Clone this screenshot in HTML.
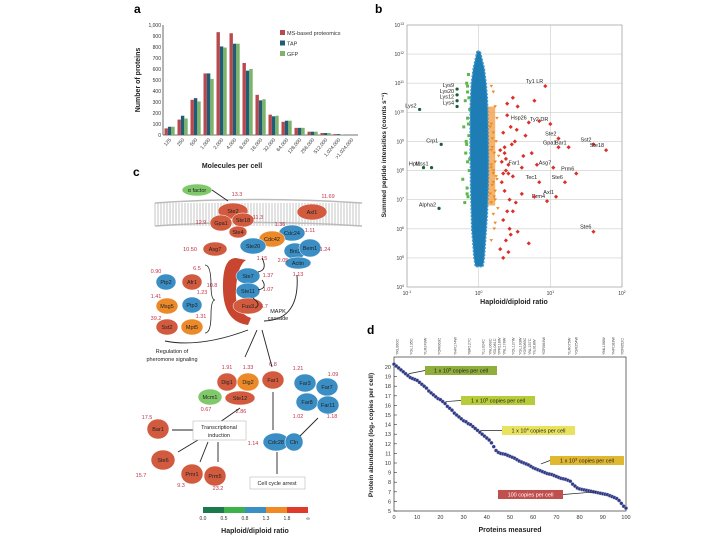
<!DOCTYPE html>
<html><head><meta charset="utf-8"><style>
html,body{margin:0;padding:0;background:#fff;}
svg{display:block;font-family:"Liberation Sans",sans-serif;}
</style></head><body>
<svg id="fig" width="720" height="540" viewBox="0 0 720 540">
<text x="134" y="13" font-size="12" font-weight="bold">a</text>
<text x="375" y="13" font-size="12" font-weight="bold">b</text>
<text x="133" y="176" font-size="12" font-weight="bold">c</text>
<text x="367" y="334" font-size="12" font-weight="bold">d</text>
<g id="pa"></g>
<g id="pb"></g>
<g id="pc"></g>
<g id="pd"></g>
</svg>
<script>
// ---- Panel a data ----
const aCategories=["125","250","500","1,000","2,000","4,000","8,000","16,000","32,000","64,000","128,000","256,000","512,000","1,024,000",">1,024,000"];
const aMS=[60,140,320,560,935,925,655,365,185,120,65,30,18,8,0];
const aTAP=[75,175,335,560,805,830,585,315,170,130,65,30,18,8,0];
const aGFP=[75,150,305,510,795,830,600,325,175,130,65,30,18,5,0];
const aTicks=[0,100,200,300,400,500,600,700,800,900,1000];
// ---- Panel b data (ratio, log10 intensity) ----
const bRedRatio=[8.5,5,10,13,40,60,18,13,11,23,4,16,7,12,9,40,3,3.5,2.5,6,7,2.2,2.8,4.5,5.5,3.2,2.4,2.6,6.5,3,2.1,2.3,4,2.7,3.3,2.5,2.2,5,3.5,2.8,2.4,2,2.6,3,2.3,6,4.2,2.9,2.2,2.4,2.1,2.6,2.3,2.5,3.4,2.0,2.7,2.2];
const bRedLog=[10.9,9.65,9.6,9.1,8.9,8.7,8.8,8.8,8.1,7.9,8.1,7.6,7.6,7.1,6.95,5.9,10.5,10.2,10.3,10.4,9.7,9.3,9.5,9.2,8.6,9,8.4,8.2,8.2,7.8,7.6,7.3,7.2,7,6.9,6.6,6.3,5.5,5.9,5.8,5.6,5.3,5.2,6.6,8.8,7.1,8.5,8.9,7.9,8.0,8.3,7.9,8.6,9.9,9.4,8.7,6.0,5.0];
const bOrangeRatio=[1.5,1.6,1.7,1.8,1.5,1.6,1.75,1.55,1.65,1.9,1.7,1.5,1.6,1.8,1.55,1.7,1.65,1.5,1.85,1.6,1.7,1.5,1.6,1.75,1.55,1.65,1.45,1.5,1.6,1.45,1.7,1.5];
const bOrangeLog=[10.9,10.7,10.2,9.8,9.6,9.3,9,8.8,8.6,8.5,8.3,8.1,7.9,7.7,7.5,7.3,7.1,6.9,6.7,6.5,6.2,8.2,7.6,7.8,9.1,6.0,9.5,8.7,8.0,7.2,7.0,5.6];
const bGreenRatio=[0.72,0.68,0.7,0.65,0.75,0.7,0.62,0.73,0.68,0.66,0.7,0.74,0.6,0.69,0.71,0.64,0.7,0.67,0.72,0.75,0.69,0.73];
const bGreenLog=[11.3,11,10.7,10.4,10.1,9.8,9.5,9.2,8.9,8.6,8.3,8,7.7,7.4,7.1,6.9,10.9,9,9.6,8.4,7.2,10.5];
const bLabels=["Ty1 LR","Hsp26","Ty2 DR","Ste2","Sst2","Ste18","Bar1","Gpa1","Asg7","Prm6","Far1","Ste6","Tec1","Axl1","Prm4","Ste6"];
const bDarkRatio=[0.5,0.5,0.5,0.5,0.15,0.3,0.17,0.22,0.28];
const bDarkLog=[10.8,10.6,10.4,10.2,10.1,8.9,8.1,8.1,6.7];
const bDarkLabels=["Lys9","Lys20","Lys12","Lys4","Lys2","Crp1","Hpt1","Mss1","Alpha2"];
const bCloudLog=[12.1,11.5,11,10.5,10,9.5,9,8.5,8,7.5,7,6.5,6,5.5,5,4.7];
const bCloudLo=[0.95,0.84,0.79,0.77,0.76,0.76,0.76,0.76,0.77,0.77,0.78,0.79,0.8,0.83,0.86,0.9];
const bCloudHi=[1.05,1.2,1.27,1.32,1.34,1.35,1.36,1.37,1.37,1.36,1.34,1.32,1.28,1.24,1.2,1.15];
// ---- Panel d data ----
const dX=[0,1,2,3,4,5,6,7,8,9,10,11,12,13,14,15,16,17,18,19,20,21,22,23,24,25,26,27,28,29,30,31,32,33,34,35,36,37,38,39,40,41,42,43,44,45,46,47,48,49,50,51,52,53,54,55,56,57,58,59,60,61,62,63,64,65,66,67,68,69,70,71,72,73,74,75,76,77,78,79,80,81,82,83,84,85,86,87,88,89,90,91,92,93,94,95,96,97,98,99,100];
const dY=[20.3,20.1,19.9,19.7,19.5,19.3,19.1,18.9,18.8,18.7,18.6,18.4,18.2,18.0,17.8,17.5,17.3,17.1,16.9,16.7,16.6,16.4,16.2,15.9,15.7,15.5,15.2,15.0,14.8,14.6,14.4,14.3,14.1,14.0,13.8,13.6,13.4,13.2,13.0,12.8,12.6,12.4,12.1,11.7,11.3,11.1,11.0,10.95,10.9,10.8,10.7,10.6,10.5,10.35,10.2,10.1,10.0,9.9,9.8,9.65,9.5,9.4,9.3,9.2,9.1,9.0,8.9,8.85,8.8,8.7,8.6,8.5,8.4,8.35,8.3,8.2,8.1,7.8,7.6,7.4,7.3,7.25,7.2,7.15,7.1,7.05,7.0,6.95,6.9,6.85,6.8,6.75,6.7,6.6,6.5,6.4,6.3,6.1,5.8,5.5,5.3];
const dTicksY=[5,6,7,8,9,10,11,12,13,14,15,16,17,18,19,20];
const dTicksX=[0,10,20,30,40,50,60,70,80,90,100];
const dGenes=["YKL060C","YGL135C","YLR249W","YOR063C","YHR174W","YBR127C","YLL024C","YNL069C","YDL081C","YPR118W","YNL178W","YOL127W","YGL103W","YIL018W","YDR064W","YLR075W","YGR254W","YML106W","YHR183W","YDR052C","YGR085C","YNL157C"];
const dGeneX=[2,8,14,20,27,33,39,42,44,46,48,52,55,61,65,76,79,91,95,99,57,59];
const dBoxText=["1 x 10","1 x 10","1 x 10","1 x 10","100 copies per cell"];
const dBoxExp=["5","5","4","3",""];

const NS="http://www.w3.org/2000/svg";
function el(parent,tag,attrs,txt){const e=document.createElementNS(NS,tag);for(const k in attrs)e.setAttribute(k,attrs[k]);if(txt!==undefined)e.textContent=txt;parent.appendChild(e);return e;}
function powLabel(g,x,y,e,anchor){const t=el(g,'text',{x:x,y:y,'font-size':5,'text-anchor':anchor,fill:'#333'},'10');el(t,'tspan',{'font-size':3.5,dy:-2},String(e));return t;}

// ===== Panel a =====
(function(){
const g=document.getElementById('pa');
const x0=163,x1=358,yB=135,yT=25;
const ay=v=>yB-(v/1000)*(yB-yT);
const bw=(x1-x0)/aCategories.length;
el(g,'line',{x1:x0,y1:yT,x2:x0,y2:yB,stroke:'#444','stroke-width':0.8});
el(g,'line',{x1:x0,y1:yB,x2:x1,y2:yB,stroke:'#444','stroke-width':0.8});
aTicks.forEach(t=>{
 const tl=el(g,'text',{x:x0-2,y:ay(t)+2,'font-size':5,'text-anchor':'end',fill:'#333'},t===1000?'1,000':t);
 
 
});
const series=[[aMS,'#b84a4f'],[aTAP,'#1d5d78'],[aGFP,'#7db46a']];
aCategories.forEach((c,i)=>{
 const gx=x0+i*bw+1.5;
 series.forEach(([arr,col],j)=>{
  const r=el(g,'rect',{x:gx+j*3.4,y:ay(arr[i]),width:3.4,height:yB-ay(arr[i]),fill:col});
  
  
 });
 const cx=x0+i*bw+bw/2+2;
 const t=el(g,'text',{x:cx,y:yB+5,'font-size':5,'text-anchor':'end',fill:'#333',transform:`rotate(-50 ${cx} ${yB+5})`},c);
 
 
});
const yl=el(g,'text',{x:140,y:80,'font-size':7,'font-weight':'bold','text-anchor':'middle',transform:'rotate(-90 140 80)',fill:'#222'},'Number of proteins');


const xl=el(g,'text',{x:232,y:168,'font-size':7,'font-weight':'bold','text-anchor':'middle',fill:'#222'},'Molecules per cell');


["MS-based proteomics","TAP","GFP"].forEach((n,i)=>{
 const r=el(g,'rect',{x:280,y:30+i*10.5,width:5,height:5,fill:series[i][1]});
 
 
 const t=el(g,'text',{x:287,y:35+i*10.5,'font-size':5.5,fill:'#333'},n);
 
 
});
})();

// ===== Panel b =====
(function(){
const g=document.getElementById('pb');
const X0=407,X1=622,Y13=25,Y4=287;
const bx=r=>X0+(Math.log10(r)+1)/3*(X1-X0);
const by=l=>Y4-(l-4)/9*(Y4-Y13);
for(let e=4;e<=13;e++){el(g,'line',{x1:X0,y1:by(e),x2:X1,y2:by(e),stroke:'#ccc','stroke-width':0.6});
 const t=powLabel(g,X0-3,by(e)+2,e,'end');
 
 }
[-1,0,1,2].forEach(e=>{el(g,'line',{x1:bx(Math.pow(10,e)),y1:Y13,x2:bx(Math.pow(10,e)),y2:Y4,stroke:'#ccc','stroke-width':0.6});
 const t=powLabel(g,bx(Math.pow(10,e)),Y4+8,e,'middle');
 
 });
el(g,'rect',{x:X0,y:Y13,width:X1-X0,height:Y4-Y13,fill:'none',stroke:'#999','stroke-width':0.6});
const ob=el(g,'rect',{x:bx(1.33),y:by(10.2),width:bx(1.7)-bx(1.33),height:by(6.8)-by(10.2),fill:'#f3a048',opacity:0.8});


bOrangeRatio.forEach((r,i)=>{const p=el(g,'path',{d:`M${bx(r)-1.8},${by(bOrangeLog[i])-1.3}h3.6l-1.8,2.8z`,fill:'#ef8a22'});
 
 });
bGreenRatio.forEach((r,i)=>{const p=el(g,'rect',{x:bx(r)-1.5,y:by(bGreenLog[i])-1.5,width:3,height:3,fill:'#5db84a'});
 
 });
let d='M'+bCloudLog.map((l,i)=>bx(bCloudLo[i])+','+by(l)).join('L');
d+='L'+bCloudHi.map((h,i)=>bx(h)+','+by(bCloudLog[i])).reverse().join('L')+'Z';
const cl=el(g,'path',{d:d,fill:'#1f7db5',stroke:'#3a95c8','stroke-width':1.5,'stroke-dasharray':'2 1.5'});


bRedRatio.forEach((r,i)=>{const x=bx(r),y=by(bRedLog[i]);const p=el(g,'path',{d:`M${x},${y-2.1}l2.1,2.1l-2.1,2.1l-2.1,-2.1z`,fill:'#d9312a'});
 
 
 if(i<bLabels.length){const t=el(g,'text',{x:x-2,y:y-3,'font-size':5.5,'text-anchor':'end',fill:'#222'},bLabels[i]);
 
 }});
bDarkRatio.forEach((r,i)=>{const x=bx(r),y=by(bDarkLog[i]);const p=el(g,'circle',{cx:x,cy:y,r:1.6,fill:'#1a5e3a'});
 
 
 const t=el(g,'text',{x:x-3,y:y-2,'font-size':5.5,'text-anchor':'end',fill:'#222'},bDarkLabels[i]);
 
 });
const yl=el(g,'text',{x:386,y:155,'font-size':6.5,'font-weight':'bold','text-anchor':'middle',transform:'rotate(-90 386 155)',fill:'#222'},'Summed peptide intensities (counts s⁻¹)');


const xl=el(g,'text',{x:514,y:304,'font-size':7,'font-weight':'bold','text-anchor':'middle',fill:'#222'},'Haploid/diploid ratio');


})();

// ===== Panel c =====
(function(){
const g=document.getElementById('pc');
for(let x=155;x<362;x+=3){el(g,'line',{x1:x,y1:203,x2:x,y2:226,stroke:'#d6d6d6','stroke-width':1.4});}
el(g,'path',{d:'M155,203 Q258,196 362,203 M155,226 Q258,219 362,226',stroke:'#bbb',fill:'none','stroke-width':1.5});
const sc=el(g,'path',{d:'M236,258 Q222,258 223,290 Q224,322 248,325 L251,318 Q234,312 236,290 Q237,266 246,260 Z',fill:'#c8452f'});


const R='#d25a3e',B='#3a8ec4',O='#ec8a2a',G='#7fc96a';
const nodes=[["α factor",197,190,15,6,G],["Ste2",233,211,15,8,R],["Axl1",312,212,15,8,R],["Gpa1",221,223,11,8,R],["Ste18",243,220,11,7,R],["Ste4",238,232,9,6,R],["Cdc24",292,233,13,8,B],["Cdc42",272,239,13,8,O],["Ste20",253,246,13,8,B],["Bni1",295,251,11,8,B],["Bem1",310,248,11,9,B],["Actin",298,263,13,6,B],["Asg7",215,249,12,7,R],["Ste7",248,276,12,8,B],["Ste11",248,291,12,8,B],["Fus3",248,306,15,8,R],["Ptp2",166,282,10,8,B],["Afr1",192,282,10,8,R],["Msg5",167,306,11,8,O],["Ptp3",192,305,10,8,B],["Sst2",167,327,11,8,R],["Mpt5",192,327,11,8,O],["Dig1",227,382,10,9,R],["Dig2",248,382,11,9,O],["Far1",273,380,11,9,R],["Mcm1",210,397,12,8,G],["Ste12",240,398,15,7,R],["Far3",305,383,11,9,B],["Far7",327,387,11,9,B],["Far8",307,402,11,9,B],["Far11",328,405,11,9,B],["Bar1",158,429,11,10,R],["Ste6",163,460,12,10,R],["Pmr1",192,474,11,10,R],["Prm5",215,476,11,10,R],["Cdc28",276,442,13,9,B],["Cln",294,442,9,9,B]];
nodes.forEach(n=>{const e=el(g,'ellipse',{cx:n[1],cy:n[2],rx:n[3],ry:n[4],fill:n[5],stroke:'#fff','stroke-width':0.5});
 
 
 const t=el(g,'text',{x:n[1],y:n[2]+2,'font-size':5.5,'text-anchor':'middle',fill:'#222'},n[0]);
 
 });
const nums=[["13.3",237,196],["11.69",328,198],["12.9",201,224],["11.3",258,219],["1.36",280,226],["1.11",310,232],["10.50",190,251],["1.24",325,251],["1.15",262,260],["2.05",283,262],["1.13",298,276],["1.37",268,277],["1.07",268,291],["6.7",264,308],["0.90",156,273],["6.5",197,270],["10.8",212,287],["1.41",156,298],["1.23",202,294],["39.2",156,320],["1.31",201,318],["1.91",227,369],["1.33",248,369],["6.8",273,366],["1.21",298,370],["1.09",333,376],["0.67",206,411],["2.86",241,413],["1.02",298,418],["1.18",332,418],["17.5",147,419],["1.14",253,445],["15.7",141,477],["9.3",181,487],["23.2",218,490]];
nums.forEach(n=>{const t=el(g,'text',{x:n[1],y:n[2],'font-size':5.5,fill:'#c0334a','text-anchor':'middle'},n[0]);
 
 });
const arr=['M212,190 L228,201','M253,298 Q262,305 255,308','M262,258 Q268,270 258,272','M262,280 Q268,288 258,290','M264,321 Q300,320 297,275','M248,330 Q200,348 165,341','M257,330 L245,357','M262,330 L272,367','M273,392 L273,430','M318,418 L300,436','M240,408 L220,422','M193,430 L172,430','M198,440 L178,452','M208,442 L200,462','M218,442 L218,462','M277,452 L277,474'];
arr.forEach(p=>{const e=el(g,'path',{d:p,stroke:'#222',fill:'none','stroke-width':0.9});
 
 });
el(g,'path',{d:'M205,265 Q211,265 211,285 Q211,300 215,300 Q211,300 211,315 Q211,333 205,333',stroke:'#222',fill:'none','stroke-width':0.8});
const bx1=el(g,'rect',{x:193,y:421,width:53,height:19,fill:'#fff',stroke:'#bbb','stroke-width':0.6});


el(g,'text',{x:219,y:429,'font-size':5.5,'text-anchor':'middle',fill:'#222'},'Transcriptional');
el(g,'text',{x:219,y:437,'font-size':5.5,'text-anchor':'middle',fill:'#222'},'induction');
const bx2=el(g,'rect',{x:250,y:477,width:55,height:12,fill:'#fff',stroke:'#bbb','stroke-width':0.6});


el(g,'text',{x:277,y:485,'font-size':5.5,'text-anchor':'middle',fill:'#222'},'Cell cycle arrest');
el(g,'text',{x:172,y:353,'font-size':5.5,'text-anchor':'middle',fill:'#222'},'Regulation of');
el(g,'text',{x:172,y:361,'font-size':5.5,'text-anchor':'middle',fill:'#222'},'pheromone signaling');
el(g,'text',{x:278,y:313,'font-size':5.5,'text-anchor':'middle',fill:'#222'},'MAPK');
el(g,'text',{x:278,y:320,'font-size':5.5,'text-anchor':'middle',fill:'#222'},'cascade');
const cols=['#1b7a4c','#3cb34a','#3a8fc4','#f08a24','#e03a2a'];
cols.forEach((c,i)=>{const r=el(g,'rect',{x:203+i*21,y:507,width:21,height:6,fill:c});
 
 });
["0.0","0.5","0.8","1.3","1.8","∞"].forEach((t,i)=>{el(g,'text',{x:203+i*21,y:520,'font-size':5,'text-anchor':'middle',fill:'#333'},t);});
const ct=el(g,'text',{x:255,y:533,'font-size':7,'font-weight':'bold','text-anchor':'middle',fill:'#222'},'Haploid/diploid ratio');


})();

// ===== Panel d =====
(function(){
const g=document.getElementById('pd');
const X0=394,X1=626,Y5=511,Y20=367;
const dx=v=>X0+v/100*(X1-X0);
const dy=v=>Y5-(v-5)/15*(Y5-Y20);
el(g,'rect',{x:X0,y:357,width:X1-X0,height:Y5-357,fill:'none',stroke:'#333','stroke-width':0.7});
dTicksY.forEach(t=>{el(g,'line',{x1:X0,y1:dy(t),x2:X0+3,y2:dy(t),stroke:'#333','stroke-width':0.6});
 const l=el(g,'text',{x:X0-3,y:dy(t)+2,'font-size':5.5,'text-anchor':'end',fill:'#333'},t);
 
 });
dTicksX.forEach(t=>{const l=el(g,'text',{x:dx(t),y:Y5+8,'font-size':5.5,'text-anchor':'middle',fill:'#333'},t);
 
 });
dGenes.forEach((n,i)=>{const x=dx(dGeneX[i]);const t=el(g,'text',{x:x,y:355,'font-size':3.8,fill:'#444',transform:`rotate(-90 ${x} 355)`},n);
 
 });
dX.forEach((x,i)=>{const c=el(g,'circle',{cx:dx(x),cy:dy(dY[i]),r:1.8,fill:'#2e3a86',stroke:'#ccd','stroke-width':0.3});
 
 });
const boxes=[[425,366,72,'#8fae3c',5,19.3],[461,396,74,'#b8cc3a',21,16.4],[502,426,73,'#e8e35e',36,13.4],[550,456,74,'#e0b830',62,9.9],[498,490,65,'#c0504d',86,7.0]];
boxes.forEach((b,i)=>{const r=el(g,'rect',{x:b[0],y:b[1],width:b[2],height:9,fill:b[3]});
 
 
 const t=el(g,'text',{x:b[0]+b[2]/2,y:b[1]+6.5,'font-size':5.5,'text-anchor':'middle',fill:i==4?'#fff':'#222'});
 t.textContent=dBoxText[i];
 if(dBoxExp[i]){el(t,'tspan',{'font-size':4,dy:-2},dBoxExp[i]);el(t,'tspan',{dy:2},' copies per cell');}
 
 
 const ax=i==4?b[0]+b[2]:b[0];
 el(g,'line',{x1:ax,y1:b[1]+4.5,x2:dx(b[4])+3,y2:dy(b[5]),stroke:'#222','stroke-width':0.7});});
const yl=el(g,'text',{x:373,y:435,'font-size':6.5,'font-weight':'bold','text-anchor':'middle',transform:'rotate(-90 373 435)',fill:'#222'},'Protein abundance (log₂ copies per cell)');


const xl=el(g,'text',{x:510,y:532,'font-size':7,'font-weight':'bold','text-anchor':'middle',fill:'#222'},'Proteins measured');


})();
</script>
</body></html>
